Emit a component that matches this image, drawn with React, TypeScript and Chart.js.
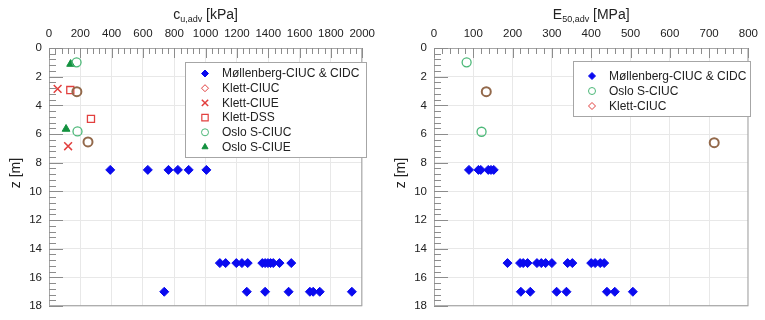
import React, { useEffect, useRef } from "react";
import { Chart, registerables } from "chart.js";
import { drawPoint } from "chart.js/helpers";

Chart.register(...registerables);

// ---------- Left chart: c_u,adv [kPa] vs depth z [m] ----------
const mollCu = [391, 631, 763, 823, 892, 1005, 1091, 1128, 1196, 1232, 1269, 1362, 1380, 1398, 1415, 1432, 1472, 1547, 736, 1263, 1380, 1530, 1666, 1687, 1729, 1934];
const mollCuZ = [8.5, 8.5, 8.5, 8.5, 8.5, 8.5, 15, 15, 15, 15, 15, 15, 15, 15, 15, 15, 15, 15, 17, 17, 17, 17, 17, 17, 17, 17];
const klettCiucCu = [178, 249];
const klettCiucCuZ = [3.05, 6.55];
const klettCiueCu = [55, 122];
const klettCiueCuZ = [2.85, 6.85];
const klettDssCu = [136, 268];
const klettDssCuZ = [2.93, 4.94];
const osloCiucCu = [176, 182];
const osloCiucCuZ = [1.0, 5.82];
const osloCiueCu = [138, 109];
const osloCiueCuZ = [1.12, 5.65];

// ---------- Right chart: E_50,adv [MPa] vs depth z [m] ----------
const mollE = [89, 113, 119, 138, 145, 152, 187, 219, 227, 238, 262, 273, 284, 300, 340, 352, 400, 410, 423, 433, 221, 245, 312, 337, 440, 460, 506];
const mollEZ = [8.5, 8.5, 8.5, 8.5, 8.5, 8.5, 15, 15, 15, 15, 15, 15, 15, 15, 15, 15, 15, 15, 15, 15, 17, 17, 17, 17, 17, 17, 17];
const osloCiucE = [83, 121];
const osloCiucEZ = [1.0, 5.84];
const klettCiucE = [133, 713];
const klettCiucEZ = [3.05, 6.6];

// ---------- Axis ticks ----------
const cuTicks = { min: 0, max: 2000, step: 200 };
const eTicks = { min: 0, max: 800, step: 100 };
const zTicks = { min: 0, max: 18, step: 2 };

const FONT = "'Liberation Sans', Arial, sans-serif";
const TXT = "#222222";

function pts(xs: number[], zs: number[]) {
  return xs.map((x, i) => ({ x, y: zs[i] }));
}

const decorPlugin = {
  id: "decor",
  afterDraw(chart: any) {
    const o = chart.options.plugins.decor;
    if (!o) return;
    const { ctx, chartArea: a, scales } = chart;
    const xs = scales.x;
    const ys = scales.y;
    ctx.save();

    // frame
    ctx.strokeStyle = "#a6a6a6";
    ctx.lineWidth = 1;
    ctx.strokeRect(a.left + 0.5, a.top + 0.5, a.right - a.left - 1, a.bottom - a.top - 1);

    // inner ticks (top & left), 5 intervals per major
    ctx.strokeStyle = "#8c8c8c";
    ctx.beginPath();
    const xMinor = o.xStep / 5;
    const nx = Math.round((xs.max - xs.min) / xMinor);
    for (let i = 0; i <= nx; i++) {
      const v = xs.min + i * xMinor;
      const px = Math.round(xs.getPixelForValue(v)) + 0.5;
      const len = i % 5 === 0 ? 10 : 6;
      ctx.moveTo(px, a.top);
      ctx.lineTo(px, a.top + len);
    }
    const yMinor = o.yStep / 5;
    const ny = Math.round((ys.max - ys.min) / yMinor);
    for (let i = 0; i <= ny; i++) {
      const v = ys.min + i * yMinor;
      const py = Math.round(ys.getPixelForValue(v)) + 0.5;
      const len = i % 5 === 0 ? 14 : 7;
      ctx.moveTo(a.left, py);
      ctx.lineTo(a.left + len, py);
    }
    ctx.stroke();

    // x title with subscript
    ctx.fillStyle = TXT;
    ctx.textBaseline = "alphabetic";
    ctx.textAlign = "left";
    const mainFont = `14px ${FONT}`;
    const subFont = `9px ${FONT}`;
    ctx.font = mainFont;
    const w1 = ctx.measureText(o.titleMain).width;
    const w3 = ctx.measureText(o.titleRest).width;
    ctx.font = subFont;
    const w2 = ctx.measureText(o.titleSub).width;
    const total = w1 + w2 + w3;
    let tx = (a.left + a.right) / 2 - total / 2;
    const base = 19;
    ctx.font = mainFont;
    ctx.fillText(o.titleMain, tx, base);
    tx += w1;
    ctx.font = subFont;
    ctx.fillText(o.titleSub, tx, base + 2.5);
    tx += w2;
    ctx.font = mainFont;
    ctx.fillText(o.titleRest, tx, base);

    // y title
    ctx.save();
    ctx.translate(a.left - 33, (a.top + a.bottom) / 2 - 4);
    ctx.rotate(-Math.PI / 2);
    ctx.textAlign = "center";
    ctx.textBaseline = "middle";
    ctx.font = mainFont;
    ctx.fillText("z [m]", 0, 0);
    ctx.restore();

    // legend box
    const L = o.legend;
    ctx.fillStyle = "#ffffff";
    ctx.fillRect(L.x, L.y, L.w, L.h);
    ctx.strokeStyle = "#a6a6a6";
    ctx.strokeRect(L.x + 0.5, L.y + 0.5, L.w - 1, L.h - 1);
    chart.data.datasets.forEach((ds: any, i: number) => {
      const m = ds.legendMarker;
      const cy = L.rowStart + i * L.rowGap;
      ctx.save();
      ctx.fillStyle = m.fill;
      ctx.strokeStyle = m.color;
      ctx.lineWidth = m.width;
      drawPoint(ctx, { pointStyle: m.style, radius: m.radius, rotation: 0, borderWidth: m.width }, L.markerX, cy);
      ctx.restore();
      ctx.fillStyle = TXT;
      ctx.font = `12px ${FONT}`;
      ctx.textAlign = "left";
      ctx.textBaseline = "middle";
      ctx.fillText(ds.label, L.textX, cy + 0.5);
    });

    ctx.restore();
  },
};

function ds(label: string, data: any[], style: string, radius: number, color: string, fill: string, width: number, legendMarker: any) {
  return {
    label,
    data,
    showLine: false,
    pointStyle: style,
    pointRadius: radius,
    pointHoverRadius: radius,
    pointBackgroundColor: fill,
    pointBorderColor: color,
    pointBorderWidth: width,
    pointHoverBorderWidth: width,
    legendMarker,
  };
}

function baseOptions(xr: any, padRight: number, yWidth: number, decor: any) {
  const tickFont = { family: FONT, size: 11.5 };
  return {
    animation: false,
    responsive: false,
    events: [],
    layout: { padding: { left: 0, right: padRight, top: 0, bottom: 13 } },
    plugins: { legend: { display: false }, tooltip: { enabled: false }, decor },
    scales: {
      x: {
        type: "linear",
        position: "top",
        min: xr.min,
        max: xr.max,
        ticks: {
          stepSize: xr.step,
          padding: 7,
          font: tickFont,
          color: TXT,
          maxRotation: 0,
          autoSkip: false,
          callback: (v: any) => String(v),
        },
        grid: { color: "#e8e8e8", drawTicks: false },
        border: { display: false },
        afterFit: (s: any) => {
          s.height = 48;
        },
      },
      y: {
        type: "linear",
        reverse: true,
        min: zTicks.min,
        max: zTicks.max,
        ticks: {
          stepSize: zTicks.step,
          padding: 7,
          font: tickFont,
          color: TXT,
          autoSkip: false,
          callback: (v: any) => String(v),
        },
        grid: { color: "#e8e8e8", drawTicks: false },
        border: { display: false },
        afterFit: (s: any) => {
          s.width = yWidth;
        },
      },
    },
  };
}

const BLUE = "#0a0aef";
const RED = "#e2403f";
const GREEN_O = "#4cb878";
const GREEN_T = "#13913f";
const BROWN = "#93694b";

function leftConfig(): any {
  return {
    type: "scatter",
    data: {
      datasets: [
        ds("Møllenberg-CIUC & CIDC", pts(mollCu, mollCuZ), "rectRot", 4.5, BLUE, BLUE, 1,
          { style: "rectRot", radius: 3.5, color: BLUE, fill: BLUE, width: 1 }),
        ds("Klett-CIUC", pts(klettCiucCu, klettCiucCuZ), "circle", 4.5, BROWN, "rgba(0,0,0,0)", 2,
          { style: "rectRot", radius: 3.5, color: RED, fill: "rgba(0,0,0,0)", width: 1 }),
        ds("Klett-CIUE", pts(klettCiueCu, klettCiueCuZ), "crossRot", 5.5, RED, RED, 1.5,
          { style: "crossRot", radius: 4.5, color: RED, fill: RED, width: 1.5 }),
        ds("Klett-DSS", pts(klettDssCu, klettDssCuZ), "rect", 5, RED, "rgba(0,0,0,0)", 1.3,
          { style: "rect", radius: 4.5, color: RED, fill: "rgba(0,0,0,0)", width: 1.2 }),
        ds("Oslo S-CIUC", pts(osloCiucCu, osloCiucCuZ), "circle", 4.5, GREEN_O, "rgba(0,0,0,0)", 1.3,
          { style: "circle", radius: 3.5, color: GREEN_O, fill: "rgba(0,0,0,0)", width: 1 }),
        ds("Oslo S-CIUE", pts(osloCiueCu, osloCiueCuZ), "triangle", 4.5, GREEN_T, GREEN_T, 1,
          { style: "triangle", radius: 3.5, color: GREEN_T, fill: GREEN_T, width: 1 }),
      ],
    },
    options: baseOptions(cuTicks, 14, 49, {
      xStep: cuTicks.step,
      yStep: zTicks.step,
      titleMain: "c",
      titleSub: "u,adv",
      titleRest: " [kPa]",
      legend: { x: 185, y: 62, w: 182, h: 96, rowStart: 73.5, rowGap: 14.7, markerX: 205, textX: 222 },
    }),
    plugins: [decorPlugin],
  };
}

function rightConfig(): any {
  return {
    type: "scatter",
    data: {
      datasets: [
        ds("Møllenberg-CIUC & CIDC", pts(mollE, mollEZ), "rectRot", 4.5, BLUE, BLUE, 1,
          { style: "rectRot", radius: 3.5, color: BLUE, fill: BLUE, width: 1 }),
        ds("Oslo S-CIUC", pts(osloCiucE, osloCiucEZ), "circle", 4.5, GREEN_O, "rgba(0,0,0,0)", 1.3,
          { style: "circle", radius: 3.5, color: GREEN_O, fill: "rgba(0,0,0,0)", width: 1 }),
        ds("Klett-CIUC", pts(klettCiucE, klettCiucEZ), "circle", 4.5, BROWN, "rgba(0,0,0,0)", 2,
          { style: "rectRot", radius: 3.5, color: RED, fill: "rgba(0,0,0,0)", width: 1 }),
      ],
    },
    options: baseOptions(eTicks, 11, 52, {
      xStep: eTicks.step,
      yStep: zTicks.step,
      titleMain: "E",
      titleSub: "50,adv",
      titleRest: " [MPa]",
      legend: { x: 191, y: 61, w: 178, h: 56, rowStart: 76, rowGap: 15, markerX: 210, textX: 227 },
    }),
    plugins: [decorPlugin],
  };
}

function ChartCanvas({ make, width, height }: { make: () => any; width: number; height: number }) {
  const ref = useRef<HTMLCanvasElement | null>(null);
  useEffect(() => {
    if (!ref.current) return;
    const chart = new Chart(ref.current, make());
    return () => chart.destroy();
  }, [make]);
  return <canvas ref={ref} width={width} height={height} style={{ display: "block", width, height }} />;
}

export default function App() {
  return (
    <div style={{ position: "absolute", left: 0, top: 0, width: 765, height: 320, background: "#ffffff", overflow: "hidden" }}>
      <div style={{ position: "absolute", left: 0, top: 0 }}>
        <ChartCanvas make={leftConfig} width={382} height={320} />
      </div>
      <div style={{ position: "absolute", left: 382, top: 0 }}>
        <ChartCanvas make={rightConfig} width={383} height={320} />
      </div>
    </div>
  );
}
